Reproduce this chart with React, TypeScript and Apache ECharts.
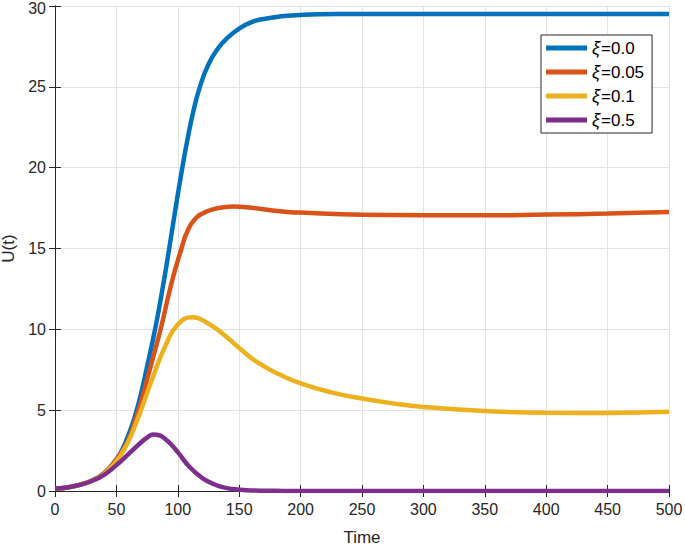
import React, { useEffect, useRef } from "react";
import * as echarts from "echarts";

const legendNames = ["ξ=0.0", "ξ=0.05", "ξ=0.1", "ξ=0.5"];
const colors = ["#0072BD", "#D95319", "#EDB120", "#7E2F8E"];

const xi00: [number, number][] = [
  [0, 0.15], [10, 0.22], [20, 0.38], [30, 0.65], [40, 1.1], [50, 1.95], [55, 2.6], [60, 3.5],
  [65, 4.6], [70, 6.0], [75, 7.7], [82, 10.2], [88, 12.7], [93, 15], [98, 17.4], [103, 19.7],
  [108, 21.8], [113, 23.6], [118, 25], [125, 26.4], [133, 27.4], [140, 28.0], [150, 28.6],
  [160, 29.0], [170, 29.2], [183, 29.35], [200, 29.45], [230, 29.5], [300, 29.5], [400, 29.5],
  [500, 29.5],
];
const xi005: [number, number][] = [
  [0, 0.15], [10, 0.22], [20, 0.38], [30, 0.65], [40, 1.1], [50, 1.95], [55, 2.5], [60, 3.2],
  [65, 4.3], [70, 5.5], [75, 6.9], [80, 8.3], [86, 10], [95, 12.9], [103, 15], [108, 16.1],
  [115, 16.9], [121, 17.2], [130, 17.45], [145, 17.6], [160, 17.52], [183, 17.3], [200, 17.22],
  [250, 17.08], [300, 17.05], [350, 17.05], [400, 17.1], [450, 17.16], [500, 17.26],
];
const xi01: [number, number][] = [
  [0, 0.15], [10, 0.22], [20, 0.38], [30, 0.63], [40, 1.05], [50, 1.85], [55, 2.4], [60, 3.1],
  [65, 4.0], [70, 5.0], [80, 7.1], [90, 9.0], [100, 10.3], [112, 10.75], [125, 10.35],
  [137, 9.7], [150, 8.85], [165, 7.95], [183, 7.2], [200, 6.65], [225, 6.1], [250, 5.72],
  [275, 5.42], [300, 5.2], [350, 4.95], [400, 4.84], [450, 4.83], [500, 4.9],
];
const xi05: [number, number][] = [
  [0, 0.15], [10, 0.22], [20, 0.38], [30, 0.62], [40, 1.0], [50, 1.6], [60, 2.3], [70, 3.0],
  [75, 3.3], [80, 3.5], [85, 3.45], [90, 3.2], [95, 2.85], [100, 2.4], [110, 1.45], [120, 0.8],
  [130, 0.4], [140, 0.18], [150, 0.08], [160, 0.03], [180, 0.01], [200, 0], [300, 0], [400, 0],
  [500, 0],
];
const seriesData = [xi00, xi005, xi01, xi05];

const FONT = "'Liberation Sans', Arial, Helvetica, sans-serif";
const TXT = "#262626";

export default function App() {
  const ref = useRef<HTMLDivElement>(null);
  useEffect(() => {
    if (!ref.current) return;
    const chart = echarts.init(ref.current, undefined, { renderer: "svg" });
    const tickStyle = { show: true, inside: true, length: 6, lineStyle: { color: TXT, width: 1 } };
    const axisLine = { show: true, lineStyle: { color: TXT, width: 1 } };
    chart.setOption({
      animation: false,
      backgroundColor: "#ffffff",
      textStyle: { fontFamily: FONT },
      grid: { left: 55, right: 16, top: 6, bottom: 57, containLabel: false, outerBoundsMode: "none" },
      legend: {
        orient: "vertical",
        left: 541,
        top: 35,
        padding: [4, 8, 4, 5],
        borderColor: TXT,
        borderWidth: 1,
        backgroundColor: "#ffffff",
        itemWidth: 41,
        itemHeight: 5,
        itemGap: 6,
        icon: "rect",
        data: legendNames,
        formatter: (name: string) => `{g|ξ}{n|${name.slice(1)}}`,
        textStyle: {
          fontFamily: FONT,
          fontSize: 17,
          color: "#000",
          lineHeight: 18,
          rich: {
            g: { fontFamily: FONT, fontStyle: "italic", fontSize: 18, color: "#000", lineHeight: 18, padding: [0, 1, 0, 0] },
            n: { fontFamily: FONT, fontSize: 17, color: "#000", lineHeight: 18 },
          },
        },
      },
      xAxis: [
        {
          type: "value",
          min: 0,
          max: 500,
          interval: 50,
          name: "Time",
          nameLocation: "middle",
          nameGap: 38,
          nameTextStyle: { fontFamily: FONT, fontSize: 17, color: TXT },
          axisLine,
          axisTick: tickStyle,
          axisLabel: { fontFamily: FONT, fontSize: 16, color: TXT, margin: 10 },
          splitLine: { show: true, lineStyle: { color: "#e3e3e3", width: 1 } },
        },
        {
          type: "value",
          position: "top",
          min: 0,
          max: 500,
          interval: 50,
          axisLine,
          axisTick: tickStyle,
          axisLabel: { show: false },
          splitLine: { show: false },
        },
      ],
      yAxis: [
        {
          type: "value",
          min: 0,
          max: 30,
          interval: 5,
          name: "U(t)",
          nameLocation: "middle",
          nameGap: 37,
          nameTextStyle: { fontFamily: FONT, fontSize: 17, color: TXT },
          axisLine,
          axisTick: tickStyle,
          axisLabel: {
            fontFamily: FONT,
            fontSize: 16,
            color: TXT,
            margin: 9,
            formatter: (v: number) => (v === 30 ? `{t|${v}}` : `${v}`),
            rich: { t: { fontFamily: FONT, fontSize: 16, color: TXT, padding: [5, 0, 0, 0] } },
          },
          splitLine: { show: true, lineStyle: { color: "#e3e3e3", width: 1 } },
        },
        {
          type: "value",
          position: "right",
          min: 0,
          max: 30,
          interval: 5,
          axisLine,
          axisTick: tickStyle,
          axisLabel: { show: false },
          splitLine: { show: false },
        },
      ],
      series: seriesData.map((d, i) => ({
        name: legendNames[i],
        type: "line",
        xAxisIndex: 0,
        yAxisIndex: 0,
        data: d,
        showSymbol: false,
        symbol: "none",
        smooth: 0.5,
        lineStyle: { color: colors[i], width: 4.5 },
        itemStyle: { color: colors[i] },
        z: 2 + i,
      })),
    });
    return () => chart.dispose();
  }, []);
  return (
    <div
      ref={ref}
      style={{ position: "fixed", left: 0, top: 0, width: 685, height: 548, background: "#fff" }}
    />
  );
}
